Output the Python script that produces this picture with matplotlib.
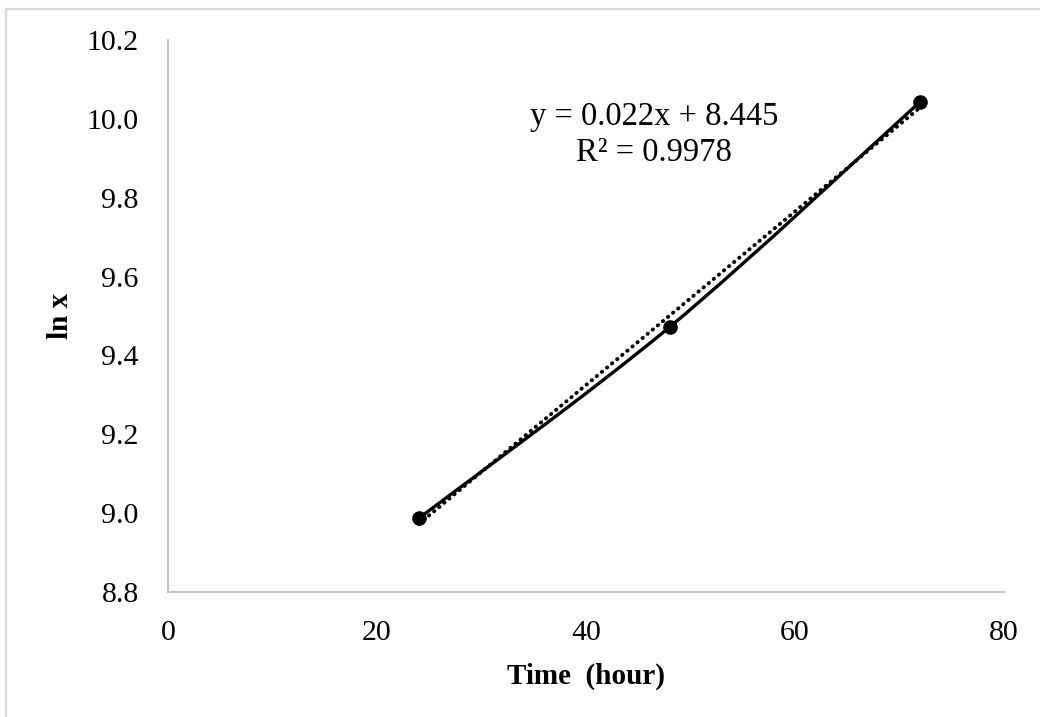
import matplotlib
import numpy as np

matplotlib.use("Agg")
import matplotlib.pyplot as plt  # noqa: E402
from matplotlib.path import Path  # noqa: E402
from matplotlib.patches import PathPatch, Rectangle  # noqa: E402

# datos
tiempo = [24, 48, 72]
ln_x = [8.987, 9.472, 10.044]
ecuacion = "y = 0.022x + 8.445"
r2_texto = "R² = 0.9978"

x_ticks = [0, 20, 40, 60, 80]
y_ticks = [8.8, 9.0, 9.2, 9.4, 9.6, 9.8, 10.0, 10.2]

plt.rcParams["font.family"] = ["Liberation Serif", "DejaVu Serif"]

fig = plt.figure(figsize=(10.4, 7.17), dpi=100)
ax = fig.add_axes([0.1615, 0.1743, 0.8039, 0.7699])

# borde exterior del gráfico (solo arriba e izquierda visibles)
fig.patches.append(Rectangle((6 / 1040, -0.1), 1.2, 1 - 9 / 717 + 0.1,
                             transform=fig.transFigure, fill=False,
                             edgecolor="#d9d9d9", lw=1.6))


def _curva_suave(xs, ys):
    """Curva tipo 'línea suavizada' de Excel (Bezier cúbica por tramos)."""
    p = np.column_stack([xs, ys]).astype(float)
    ext = np.vstack([p[0], p, p[-1]])
    verts = [p[0]]
    codes = [Path.MOVETO]
    for i in range(len(p) - 1):
        c1 = ext[i + 1] + (ext[i + 2] - ext[i]) / 6
        c2 = ext[i + 2] - (ext[i + 3] - ext[i + 1]) / 6
        verts += [c1, c2, ext[i + 2]]
        codes += [Path.CURVE4] * 3
    return Path(verts, codes)


ax.add_patch(PathPatch(_curva_suave(tiempo, ln_x), fill=False,
                       edgecolor="black", lw=2.4, capstyle="round"))
ax.plot(tiempo, ln_x, "o", color="black", ms=9.5, zorder=4)

# línea de tendencia lineal
m, b = np.polyfit(tiempo, ln_x, 1)
xt = np.array([tiempo[0], tiempo[-1]])
ax.plot(xt, m * xt + b, color="black", lw=2.8,
        linestyle=(0, (0.1, 1.6)), dash_capstyle="round", zorder=3)

ax.text(46.5, 9.96, ecuacion + "\n" + r2_texto, ha="center", va="center",
        fontsize=23.5, linespacing=1.22)

ax.set_xlim(0, 80)
ax.set_ylim(8.8, 10.2)
ax.set_xticks(x_ticks)
ax.set_yticks(y_ticks)
ax.set_xticklabels([str(v) for v in x_ticks])
ax.set_yticklabels([f"{v:.1f}" for v in y_ticks])
ax.tick_params(axis="both", length=0, labelsize=21.5)
ax.tick_params(axis="x", pad=20)
ax.tick_params(axis="y", pad=21)

for lado in ["top", "right"]:
    ax.spines[lado].set_visible(False)
for lado in ["left", "bottom"]:
    ax.spines[lado].set_color("#bfbfbf")
    ax.spines[lado].set_linewidth(1.3)

ax.set_xlabel("Time  (hour)", fontsize=21, fontweight="bold", labelpad=12)
ax.set_ylabel("ln x", fontsize=21, fontweight="bold", labelpad=9)

fig.savefig("out.png", dpi=100)
plt.close(fig)
